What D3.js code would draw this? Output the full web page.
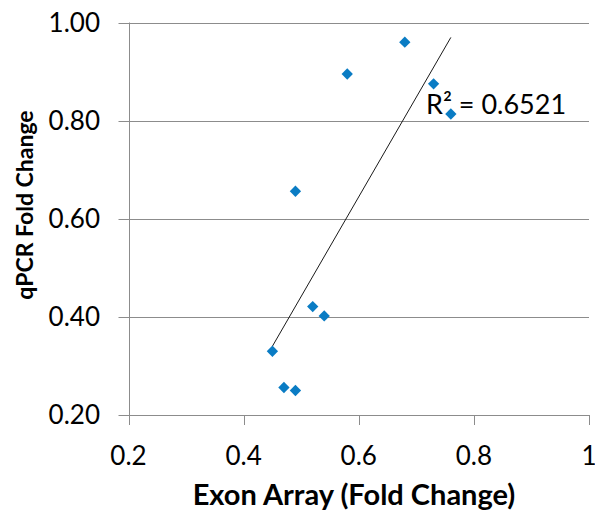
<!DOCTYPE html>
<html>
<head>
<meta charset="utf-8">
<script src="https://cdn.jsdelivr.net/npm/d3@7"></script>
<style>
  body { margin: 0; background: #fff; }
  text { font-family: Lato, "Open Sans", sans-serif; }
</style>
</head>
<body>
<div id="chart"></div>
<script>
// values
const exonArray = [0.45, 0.47, 0.49, 0.52, 0.54, 0.49, 0.58, 0.68, 0.73, 0.76];
const qpcr = [0.33, 0.256, 0.25, 0.421, 0.402, 0.656, 0.895, 0.96, 0.875, 0.8135];
const xTicks = [0.2, 0.4, 0.6, 0.8, 1];
const yTicks = [0.2, 0.4, 0.6, 0.8, 1.0];
const r2Label = 'R² = 0.6521';

const dimension = {
  width: 595,
  height: 511,
  margin: { top: 22.5, right: 6, bottom: 96, left: 128.5 }
};

const svg = d3.select('#chart')
  .append('svg')
  .attr('width', dimension.width)
  .attr('height', dimension.height);

const xScale = d3.scaleLinear()
  .domain([0.2, 1])
  .range([dimension.margin.left, dimension.width - dimension.margin.right]);

const yScale = d3.scaleLinear()
  .domain([0.2, 1])
  .range([dimension.height - dimension.margin.bottom, dimension.margin.top]);

const gridColor = '#8c8c8c';

// horizontal gridlines
svg.append('g')
  .selectAll('line')
  .data(yTicks)
  .join('line')
  .attr('x1', dimension.margin.left - 10)
  .attr('x2', xScale(1))
  .attr('y1', d => Math.round(yScale(d)) + 0.5)
  .attr('y2', d => Math.round(yScale(d)) + 0.5)
  .attr('stroke', gridColor)
  .attr('stroke-width', 1);

// y axis line
svg.append('line')
  .attr('x1', Math.round(xScale(0.2)) + 0.5)
  .attr('x2', Math.round(xScale(0.2)) + 0.5)
  .attr('y1', yScale(1))
  .attr('y2', yScale(0.2))
  .attr('stroke', gridColor);

// x ticks
svg.append('g')
  .selectAll('line')
  .data(xTicks)
  .join('line')
  .attr('x1', d => Math.round(xScale(d)) + 0.5)
  .attr('x2', d => Math.round(xScale(d)) + 0.5)
  .attr('y1', yScale(0.2))
  .attr('y2', yScale(0.2) + 10)
  .attr('stroke', gridColor);

// tick labels
svg.append('g')
  .selectAll('text')
  .data(yTicks)
  .join('text')
  .attr('x', 100)
  .attr('y', d => yScale(d))
  .attr('dy', '0.36em')
  .attr('text-anchor', 'end')
  .attr('font-size', 26)
  .attr('fill', '#000')
  .text(d => d3.format('.2f')(d));

svg.append('g')
  .selectAll('text')
  .data(xTicks)
  .join('text')
  .attr('x', d => xScale(d))
  .attr('y', 465)
  .attr('text-anchor', 'middle')
  .attr('font-size', 26)
  .attr('fill', '#000')
  .text(d => d3.format('')(d));

// trendline (least squares)
const mx = d3.mean(exonArray);
const my = d3.mean(qpcr);
const slope = d3.sum(exonArray, (x, i) => (x - mx) * (qpcr[i] - my)) /
  d3.sum(exonArray, x => (x - mx) * (x - mx));
const intercept = my - slope * mx;
const [xMin, xMax] = d3.extent(exonArray);

svg.append('line')
  .attr('x1', xScale(xMin))
  .attr('y1', yScale(slope * xMin + intercept))
  .attr('x2', xScale(xMax))
  .attr('y2', yScale(slope * xMax + intercept))
  .attr('stroke', '#1a1a1a')
  .attr('stroke-width', 1);

// points
const diamond = d3.symbol(d3.symbolSquare, 64);
svg.append('g')
  .selectAll('path')
  .data(exonArray.map((x, i) => ({ x, y: qpcr[i] })))
  .join('path')
  .attr('d', diamond)
  .attr('transform', d => `translate(${xScale(d.x)},${yScale(d.y)}) rotate(45)`)
  .attr('fill', '#0a7cc4');

// R² label
svg.append('text')
  .attr('x', 426)
  .attr('y', 114)
  .attr('font-size', 27)
  .attr('fill', '#000')
  .text(r2Label);

// axis titles
svg.append('text')
  .attr('x', 354)
  .attr('y', 505)
  .attr('text-anchor', 'middle')
  .attr('font-size', 29)
  .attr('font-weight', 'bold')
  .attr('fill', '#000')
  .text('Exon Array (Fold Change)');

svg.append('text')
  .attr('transform', 'translate(33,205) rotate(-90)')
  .attr('text-anchor', 'middle')
  .attr('font-size', 23)
  .attr('font-weight', 'bold')
  .attr('fill', '#000')
  .text('qPCR Fold Change');
</script>
</body>
</html>
